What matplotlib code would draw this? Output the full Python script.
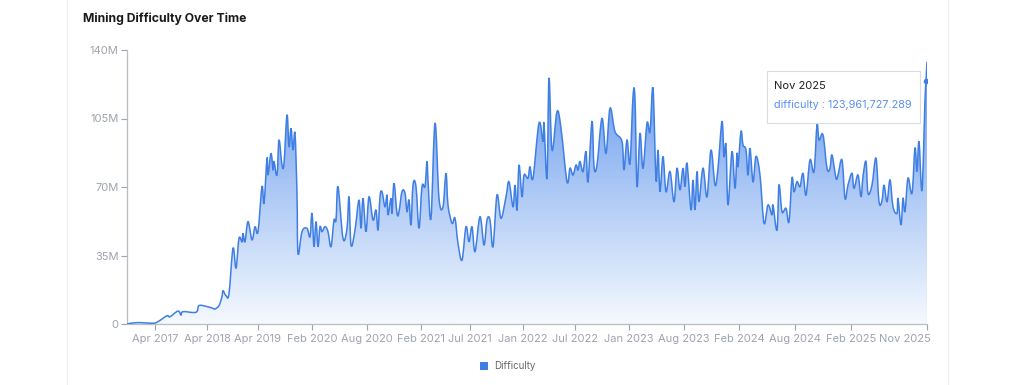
import numpy as np
import matplotlib.pyplot as plt
import matplotlib.transforms as mtransforms
from matplotlib.colors import LinearSegmentedColormap
from matplotlib.patches import Rectangle, PathPatch
from matplotlib.path import Path

plt.rcParams['font.family'] = ['Inter', 'DejaVu Sans']

# sample position along the category axis and difficulty in millions
point = [0, 10, 26, 31, 40, 43, 51, 54, 56, 69, 72, 80, 86, 88, 92, 95, 96, 99, 102,
         106, 109, 112, 115, 116, 118, 121, 125, 128, 131, 135, 137, 140, 141, 144, 146,
         147, 150, 152, 155, 157, 160, 162, 164, 166, 168, 170, 171, 175, 180, 183, 185,
         187, 189, 191, 193, 195, 198, 201, 204, 207, 209, 211, 216, 220, 222, 224, 228,
         232, 234, 236, 239, 242, 246, 249, 251, 253, 255, 258, 260, 261, 264, 265, 267,
         270, 272, 275, 278, 280, 282, 284, 286, 289, 292, 295, 298, 300, 301, 304, 308,
         312, 316, 319, 321, 325, 328, 331, 335, 339, 342, 345, 348, 353, 357, 360, 363,
         366, 370, 374, 379, 382, 386, 388, 390, 392, 395, 397, 401, 403, 406, 412, 416,
         417, 420, 422, 425, 430, 434, 440, 443, 446, 449, 451, 453, 456, 459, 461, 465,
         467, 470, 475, 479, 483, 488, 495, 497, 500, 503, 506, 508, 510, 513, 516, 520,
         523, 526, 529, 531, 533, 536, 539, 543, 547, 550, 553, 556, 558, 560, 564, 566,
         568, 570, 572, 576, 580, 584, 588, 591, 595, 597, 599, 601, 605, 608, 610, 611,
         614, 616, 619, 621, 623, 626, 629, 633, 637, 641, 645, 646, 650, 652, 655, 659,
         662, 665, 667, 670, 673, 676, 679, 683, 687, 690, 692, 696, 700, 703, 705, 709,
         711, 715, 718, 721, 725, 727, 731, 734, 736, 739, 741, 745, 749, 752, 755, 757,
         760, 763, 766, 770, 771, 774, 776, 778, 781, 785, 788, 790, 792, 795, 798, 799, 800]
difficulty = [0, 0.7, 0.4, 1.2, 4.2, 3.7, 6.6, 4.6, 6.3, 6.0, 9.4, 8.9, 8.0, 7.7, 9.4, 14, 17,
              14.5, 15.5, 38.7, 28.5, 43.8, 42, 46.3, 42, 52.3, 43, 49.7, 47.2, 70.2, 61.7,
              84.7, 76.1, 87.2, 78.7, 83, 76.1, 94, 81.2, 82, 106.8, 90.6, 100, 88.9, 97.4,
              65.9, 36, 47.2, 48.9, 44.6, 56.6, 39.5, 52.3, 39.5, 49.7, 47.2, 49.7, 47.2,
              39.5, 53.1, 53, 70.2, 43.8, 48.9, 65, 40.4, 48, 63.4, 48.9, 64.2, 47.2, 65,
              53.1, 58.3, 48, 65, 67.6, 59.9, 65.9, 55.7, 64.2, 56.6, 71.9, 56.6, 57.4, 67.6,
              66.8, 57.4, 63.4, 50.6, 71, 70.2, 48.9, 70.2, 70.2, 83, 73.6, 54, 102.6, 64.2,
              59.9, 77, 60.8, 51.5, 54, 41.2, 32.7, 49.7, 42, 49.7, 37, 54.8, 40.4, 53.1,
              53.1, 39.5, 65.9, 54, 65, 72.7, 59.9, 71, 58.3, 81.2, 65, 76.1, 74.5, 80.4,
              74.5, 102.6, 93.2, 102.6, 74.5, 125.6, 88.9, 108.5, 100, 72.7, 79.6, 76.1,
              81.2, 78.7, 83, 77.9, 88.1, 72.7, 103.5, 80.4, 81.2, 105.1, 87.2, 110.2, 98.3,
              93.2, 78.7, 94, 82.1, 116.2, 115, 70.2, 97.4, 79.6, 102.6, 98.3, 120.4, 73.6,
              88.9, 67.6, 85.6, 67.6, 77.9, 62.5, 79.6, 68.5, 79.6, 70.2, 82.1, 58.3, 73.6,
              58.3, 77.9, 62.5, 79.6, 65, 88.9, 71, 79.6, 103.5, 85.6, 91.5, 60.8, 88.1,
              69.3, 87.2, 80.4, 98.3, 91.5, 88.9, 76, 89.8, 72.7, 85.6, 76.1, 51.5, 60.8,
              55.7, 60.8, 48, 71, 57.4, 59.1, 52.3, 74.5, 67.6, 72.7, 70.2, 77, 65.9, 83.8,
              77.9, 101.7, 94, 96.6, 79.6, 79.6, 86.4, 74.5, 76.1, 83.8, 64.2, 71, 77, 69.3,
              76.1, 65, 75.3, 83, 66.8, 71, 84.7, 62.5, 63, 71, 62.5, 73.6, 59.9, 56.6, 64.2,
              50.6, 64.2, 57.4, 74.5, 66.8, 89.8, 77.9, 93.2, 68.5, 114.5, 123.96, 134]

tick_pos = [28, 80, 131, 185, 240, 294, 343, 396, 448, 502, 557, 612, 668, 724, 800]
tick_labels = ["Apr 2017", "Apr 2018", "Apr 2019", "Feb 2020", "Aug 2020", "Feb 2021",
               "Jul 2021", "Jan 2022", "Jul 2022", "Jan 2023", "Aug 2023", "Feb 2024",
               "Aug 2024", "Feb 2025", "Nov 2025"]
y_ticks = [0, 35, 70, 105, 140]
y_labels = ["0", "35M", "70M", "105M", "140M"]

blue = "#3f7fe3"
grey = "#9ea3ad"


def smooth_path(xs, ys, t=0.35, close=False):
    # bezier curve through the points, like a smoothed echarts line
    pts = np.column_stack([xs, ys])
    verts = [pts[0]]
    codes = [Path.MOVETO]
    n = len(pts)
    for i in range(n - 1):
        p0 = pts[max(i - 1, 0)]
        p1 = pts[i]
        p2 = pts[i + 1]
        p3 = pts[min(i + 2, n - 1)]
        c1 = p1 + (p2 - p0) * t / 2
        c2 = p2 - (p3 - p1) * t / 2
        c1[1] = max(c1[1], 0)
        c2[1] = max(c2[1], 0)
        verts += [c1, c2, p2]
        codes += [Path.CURVE4] * 3
    if close:
        verts += [[xs[-1], 0], [xs[0], 0], pts[0]]
        codes += [Path.LINETO, Path.LINETO, Path.CLOSEPOLY]
    return Path(np.array(verts), codes)


fig = plt.figure(figsize=(10.24, 3.85), dpi=100)
fig.patch.set_facecolor("white")
ax = fig.add_axes([127 / 1024, 61 / 385, 800 / 1024, 274 / 385])

x = np.array(point, dtype=float)
y = np.array(difficulty, dtype=float)

# gradient under the line
cmap = LinearSegmentedColormap.from_list("fill", ["#f5f9fe", "#aac7f5", "#5a92ec"])
grad = np.linspace(0, 1, 256).reshape(-1, 1)
img = ax.imshow(grad, cmap=cmap, aspect="auto", origin="lower",
                extent=[0, 800, 0, 140], zorder=1)
area = PathPatch(smooth_path(x, y, close=True), facecolor="none", edgecolor="none",
                 transform=ax.transData)
ax.add_patch(area)
img.set_clip_path(area)
ax.add_patch(PathPatch(smooth_path(x, y), facecolor="none", edgecolor=blue, lw=1.1,
                       zorder=3, transform=ax.transData))

# hover pointer, dot and tooltip
ax.axvline(799.5, color="#d9dce1", lw=0.8, zorder=2)
ax.plot([799], [123.96], "o", color=blue, ms=3, zorder=4)

ax.set_xlim(0, 800)
ax.set_ylim(0, 140)
ax.set_xticks(tick_pos)
ax.set_xticklabels(tick_labels)
ax.set_yticks(y_ticks)
ax.set_yticklabels(y_labels)
ax.tick_params(axis="x", colors=grey, labelsize=8, length=4, width=0.8, pad=3)
ax.tick_params(axis="y", colors=grey, labelsize=8, length=4, width=0.8, pad=2)
last = ax.get_xticklabels()[-1]
last.set_horizontalalignment("right")
last.set_transform(last.get_transform() +
                   mtransforms.ScaledTranslation(0.035, 0, fig.dpi_scale_trans))
for s in ["top", "right"]:
    ax.spines[s].set_visible(False)
for s in ["left", "bottom"]:
    ax.spines[s].set_color("#b8bcc4")
    ax.spines[s].set_linewidth(0.9)
ax.set_facecolor("none")

# tooltip box
fig.patches.append(Rectangle((767 / 1024, 1 - 123 / 385), 153 / 1024, 52 / 385,
                             transform=fig.transFigure, facecolor="white",
                             edgecolor="#dcdcdc", lw=0.8, zorder=10))
fig.text(774 / 1024, 1 - 86 / 385, "Nov 2025", fontsize=8, color="#222222",
         va="center", zorder=11)
fig.text(774 / 1024, 1 - 105 / 385, "difficulty : 123,961,727.289", fontsize=7.8,
         color="#5b8def", va="center", zorder=11)

# card borders
fig.add_artist(plt.Line2D([67 / 1024, 67 / 1024], [0, 1], color="#eeeeee", lw=1))
fig.add_artist(plt.Line2D([948 / 1024, 948 / 1024], [0, 1], color="#eeeeee", lw=1))

fig.text(83 / 1024, 1 - 19 / 385, "Mining Difficulty Over Time", fontsize=8.8,
         fontweight="bold", color="#1a1a1a", va="center")

# legend
fig.patches.append(Rectangle((480 / 1024, 1 - 370 / 385), 8 / 1024, 8 / 385,
                             transform=fig.transFigure, facecolor="#3f7fe3",
                             edgecolor="none"))
fig.text(494 / 1024, 1 - 366 / 385, "Difficulty", fontsize=7, color="#666666",
         va="center")

fig.savefig("out.png", dpi=100, facecolor="white")
